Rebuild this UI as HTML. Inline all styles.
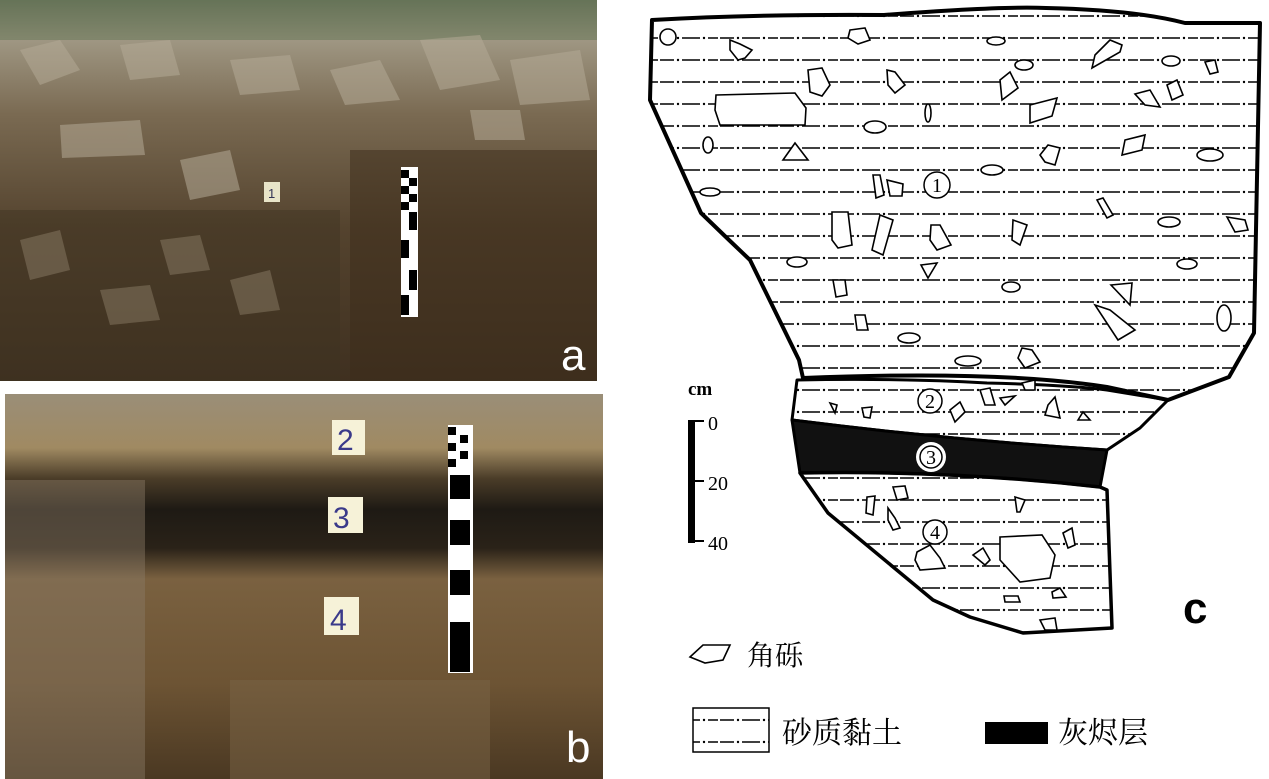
<!DOCTYPE html>
<html><head><meta charset="utf-8"><style>
html,body{margin:0;padding:0;background:#fff;width:1269px;height:779px;overflow:hidden}
svg{display:block}
</style></head><body>
<svg width="1269" height="779" viewBox="0 0 1269 779" xmlns="http://www.w3.org/2000/svg">
<defs>
<linearGradient id="ga" x1="0" y1="0" x2="0" y2="1">
<stop offset="0" stop-color="#5d6a52"/><stop offset="0.1" stop-color="#a09884"/><stop offset="0.3" stop-color="#7a6a52"/><stop offset="0.6" stop-color="#54432e"/><stop offset="1" stop-color="#3f3020"/></linearGradient>
<linearGradient id="gb" x1="0" y1="0" x2="0" y2="1">
<stop offset="0" stop-color="#9a8e78"/><stop offset="0.14" stop-color="#a08a62"/><stop offset="0.22" stop-color="#4a3c28"/><stop offset="0.3" stop-color="#1e1a14"/><stop offset="0.4" stop-color="#2a2218"/><stop offset="0.48" stop-color="#7a6140"/><stop offset="0.75" stop-color="#6d5434"/><stop offset="1" stop-color="#4a3822"/></linearGradient>
<pattern id="dd" x="0" y="5" width="60" height="22" patternUnits="userSpaceOnUse">
<path d="M0 11 H14 M22 11 H40 M48 11 H58" stroke="#000" stroke-width="1.6"/>
<circle cx="18" cy="11" r="1.2" fill="#000"/><circle cx="44" cy="11" r="1.2" fill="#000"/>
</pattern>
</defs>
<!-- photo a -->
<rect x="0" y="0" width="597" height="381" fill="url(#ga)"/>
<rect x="0" y="0" width="597" height="40" fill="#6c7a5c" opacity="0.6"/>
<g fill="#b4aa96" opacity="0.55">
<path d="M20 50 L60 40 L80 70 L40 85Z"/><path d="M120 45 L170 40 L180 75 L130 80Z"/><path d="M230 60 L290 55 L300 90 L240 95Z"/><path d="M330 70 L380 60 L400 100 L345 105Z"/><path d="M420 40 L480 35 L500 80 L440 90Z"/><path d="M510 60 L580 50 L590 100 L520 105Z"/><path d="M60 125 L140 120 L145 155 L62 158Z"/><path d="M180 160 L230 150 L240 190 L190 200Z"/><path d="M470 110 L520 110 L525 140 L475 140Z"/>
</g>
<rect x="0" y="210" width="340" height="171" fill="#3e3222" opacity="0.45"/>
<rect x="350" y="150" width="247" height="231" fill="#3c2b1a" opacity="0.5"/>
<g fill="#8a7c66" opacity="0.5"><path d="M20 240 L60 230 L70 270 L30 280Z"/><path d="M160 240 L200 235 L210 270 L170 275Z"/><path d="M100 290 L150 285 L160 320 L110 325Z"/><path d="M230 280 L270 270 L280 310 L240 315Z"/></g>
<rect x="264" y="182" width="16" height="20" fill="#e8e4c8"/>
<text x="268" y="198" font-family="Liberation Sans" font-size="13" fill="#335">1</text>
<rect x="401" y="167" width="17" height="150" fill="#fff"/>
<g fill="#000"><rect x="401" y="170" width="8" height="8"/><rect x="409" y="178" width="8" height="8"/><rect x="401" y="186" width="8" height="8"/><rect x="409" y="194" width="8" height="8"/><rect x="401" y="202" width="8" height="8"/><rect x="409" y="212" width="8" height="18"/><rect x="401" y="240" width="8" height="18"/><rect x="409" y="270" width="8" height="20"/><rect x="401" y="295" width="8" height="20"/></g>
<text x="561" y="370" font-family="Liberation Sans" font-size="44" fill="#fff">a</text>
<!-- photo b -->
<rect x="5" y="394" width="598" height="385" fill="url(#gb)"/>
<rect x="5" y="480" width="140" height="299" fill="#8a7a66" opacity="0.45"/>
<rect x="230" y="680" width="260" height="99" fill="#7a6446" opacity="0.5"/>
<rect x="332" y="420" width="33" height="35" fill="#f6f2d8"/>
<text x="337" y="450" font-family="Liberation Sans" font-size="30" fill="#3a3a8a">2</text>
<rect x="328" y="497" width="35" height="36" fill="#f6f2d8"/>
<text x="333" y="528" font-family="Liberation Sans" font-size="30" fill="#3a3a8a">3</text>
<rect x="324" y="597" width="35" height="38" fill="#f6f2d8"/>
<text x="330" y="630" font-family="Liberation Sans" font-size="30" fill="#3a3a8a">4</text>
<rect x="448" y="425" width="25" height="248" fill="#fff"/>
<g fill="#000"><rect x="448" y="427" width="8" height="8"/><rect x="460" y="435" width="8" height="8"/><rect x="448" y="443" width="8" height="8"/><rect x="460" y="451" width="8" height="8"/><rect x="448" y="459" width="8" height="8"/><rect x="450" y="475" width="20" height="24"/><rect x="450" y="520" width="20" height="25"/><rect x="450" y="570" width="20" height="25"/><rect x="450" y="622" width="20" height="50"/></g>
<text x="566" y="762" font-family="Liberation Sans" font-size="44" fill="#fff">b</text>

<!-- diagram -->
<g stroke="#000" stroke-linejoin="round">
<path d="M652 20 Q760 14 884 15 Q1000 6 1046 8 Q1136 10 1185 23 L1260 23 L1254 333 L1229 377 L1168 400 L1107 387 Q1000 370 803 378 L799 360 L750 260 L729 240 L701 213 L650 100 Z" fill="url(#dd)" stroke-width="4"/>
<path d="M797 380 Q900 378 987 383 Q1070 385 1107 390 L1168 400 L1140 428 L1107 450 Q950 440 792 420 Z" fill="url(#dd)" stroke-width="3"/>
<path d="M792 420 Q950 440 1107 450 L1100 487 Q950 470 800 473 Z" fill="#111" stroke-width="3"/>
<path d="M800 473 Q950 470 1100 487 L1107 490 L1112 628 L1023 633 L970 617 L933 600 L828 513 Z" fill="url(#dd)" stroke-width="3.5"/>
</g>
<g fill="#fff" stroke="#000" stroke-width="1.6">
<ellipse cx="668" cy="37" rx="8" ry="8"/>
<path d="M730 40 L740 44 L752 50 L745 58 L738 60 L730 50Z"/>
<path d="M850 30 L865 28 L870 40 L858 44 L848 38Z"/>
<ellipse cx="996" cy="41" rx="9" ry="4"/>
<path d="M1095 55 L1110 40 L1122 45 L1120 52 L1092 68Z"/>
<ellipse cx="1171" cy="61" rx="9" ry="5"/>
<path d="M1205 62 L1215 60 L1218 72 L1210 74Z"/>
<path d="M808 70 L822 68 L830 85 L822 96 L810 92Z"/>
<path d="M716 95 L795 93 L806 108 L805 125 L720 125 L715 110Z"/>
<path d="M887 70 L895 72 L905 85 L895 93 L888 85Z"/>
<path d="M1000 80 L1010 72 L1018 88 L1002 100Z"/>
<ellipse cx="1024" cy="65" rx="9" ry="5"/>
<path d="M1030 105 L1057 98 L1052 116 L1030 123Z"/>
<path d="M1167 85 L1177 80 L1183 95 L1172 100Z"/>
<path d="M1135 94 L1150 90 L1160 107 L1145 105Z"/>
<ellipse cx="928" cy="113" rx="3" ry="9"/>
<ellipse cx="875" cy="127" rx="11" ry="6"/>
<ellipse cx="708" cy="145" rx="5" ry="8"/>
<path d="M783 160 L795 143 L808 160Z"/>
<path d="M1048 145 L1060 148 L1055 165 L1045 162 L1040 155Z"/>
<path d="M1125 140 L1145 135 L1142 150 L1122 155Z"/>
<ellipse cx="1210" cy="155" rx="13" ry="6"/>
<ellipse cx="992" cy="170" rx="11" ry="5"/>
<ellipse cx="710" cy="192" rx="10" ry="4"/>
<path d="M873 175 L880 175 L884 195 L876 198Z"/>
<path d="M887 180 L903 184 L902 196 L890 196Z"/>
<path d="M1097 200 L1103 198 L1113 215 L1107 218Z"/>
<path d="M832 212 L848 212 L852 245 L838 248 L832 240Z"/>
<path d="M880 215 L893 220 L883 255 L872 250Z"/>
<path d="M931 225 L940 225 L951 245 L937 250 L930 240Z"/>
<path d="M1013 220 L1027 225 L1020 245 L1012 240Z"/>
<ellipse cx="1169" cy="222" rx="11" ry="5"/>
<path d="M1227 217 L1245 220 L1248 230 L1235 232Z"/>
<ellipse cx="797" cy="262" rx="10" ry="5"/>
<path d="M921 265 L937 263 L928 278Z"/>
<ellipse cx="1187" cy="264" rx="10" ry="5"/>
<path d="M833 280 L845 280 L847 295 L836 297Z"/>
<ellipse cx="1011" cy="287" rx="9" ry="5"/>
<path d="M1111 285 L1132 283 L1130 305 Z"/>
<path d="M1095 305 L1110 310 L1135 330 L1118 340Z"/>
<ellipse cx="1224" cy="318" rx="7" ry="13"/>
<path d="M855 315 L865 315 L868 330 L857 330Z"/>
<ellipse cx="909" cy="338" rx="11" ry="5"/>
<path d="M1022 348 L1032 350 L1040 362 L1025 368 L1018 358Z"/>
<ellipse cx="968" cy="361" rx="13" ry="5"/>
<path d="M830 403 L837 405 L835 413Z"/>
<path d="M862 408 L872 407 L870 418 L864 417Z"/>
<path d="M950 410 L960 402 L965 412 L955 422Z"/>
<path d="M980 390 L990 388 L995 405 L985 405Z"/>
<path d="M1000 398 L1015 396 L1005 405Z"/>
<path d="M1022 383 L1035 380 L1035 390 L1025 390Z"/>
<path d="M1048 405 L1055 397 L1060 418 L1045 415Z"/>
<path d="M1078 420 L1083 412 L1090 420Z"/>
<path d="M893 487 L905 486 L908 498 L897 500Z"/>
<path d="M867 497 L875 496 L873 515 L866 513Z"/>
<path d="M1015 497 L1025 500 L1020 512 L1017 512Z"/>
<path d="M888 508 L895 518 L900 528 L893 530 L888 520Z"/>
<path d="M1063 533 L1072 528 L1075 545 L1068 548Z"/>
<path d="M917 552 L930 545 L940 558 L945 568 L920 570 L915 560Z"/>
<path d="M973 555 L983 548 L990 560 L985 565Z"/>
<path d="M1000 537 L1042 535 L1055 555 L1050 578 L1020 582 L1000 560Z"/>
<path d="M1052 592 L1060 588 L1066 597 L1053 598Z"/>
<path d="M1004 596 L1018 596 L1020 602 L1005 602Z"/>
<path d="M1040 620 L1055 618 L1057 630 L1045 630Z"/>
</g>
<!-- circled labels -->
<g fill="#fff" stroke="#000" stroke-width="1.5">
<circle cx="937" cy="185" r="13"/>
<circle cx="930" cy="401" r="12"/>
<circle cx="935" cy="532" r="12"/>
</g>
<circle cx="931" cy="457" r="15" fill="#fff"/>
<circle cx="931" cy="457" r="11" fill="none" stroke="#000" stroke-width="1.5"/>
<g font-family="Liberation Serif, serif" font-size="20" text-anchor="middle" fill="#000">
<text x="937" y="192">1</text>
<text x="930" y="408">2</text>
<text x="931" y="464">3</text>
<text x="935" y="539">4</text>
</g>
<!-- scale -->
<text x="688" y="395" font-family="Liberation Serif, serif" font-size="19" font-weight="bold">cm</text>
<rect x="688" y="420" width="7" height="123" fill="#000"/>
<path d="M695 421 H704 M695 481 H704 M695 541 H704" stroke="#000" stroke-width="2"/>
<g font-family="Liberation Serif, serif" font-size="20"><text x="708" y="430">0</text><text x="708" y="490">20</text><text x="708" y="550">40</text></g>
<text x="1183" y="623" font-family="Liberation Sans, sans-serif" font-size="44" font-weight="bold">c</text>
<!-- legend -->
<path d="M690 657 L703 645 L730 645 L723 660 L705 663Z" fill="#fff" stroke="#000" stroke-width="1.6"/>
<text x="747" y="665" font-family="Liberation Sans, 'Noto Serif CJK SC', serif" font-size="28">角砾</text>
<rect x="693" y="708" width="76" height="44" fill="url(#dd)" stroke="#000" stroke-width="1.5"/>
<text x="782" y="743" font-family="Liberation Sans, 'Noto Serif CJK SC', serif" font-size="30">砂质黏土</text>
<rect x="985" y="722" width="63" height="22" fill="#000"/>
<text x="1058" y="743" font-family="Liberation Sans, 'Noto Serif CJK SC', serif" font-size="30">灰烬层</text>
</svg>
</body></html>
